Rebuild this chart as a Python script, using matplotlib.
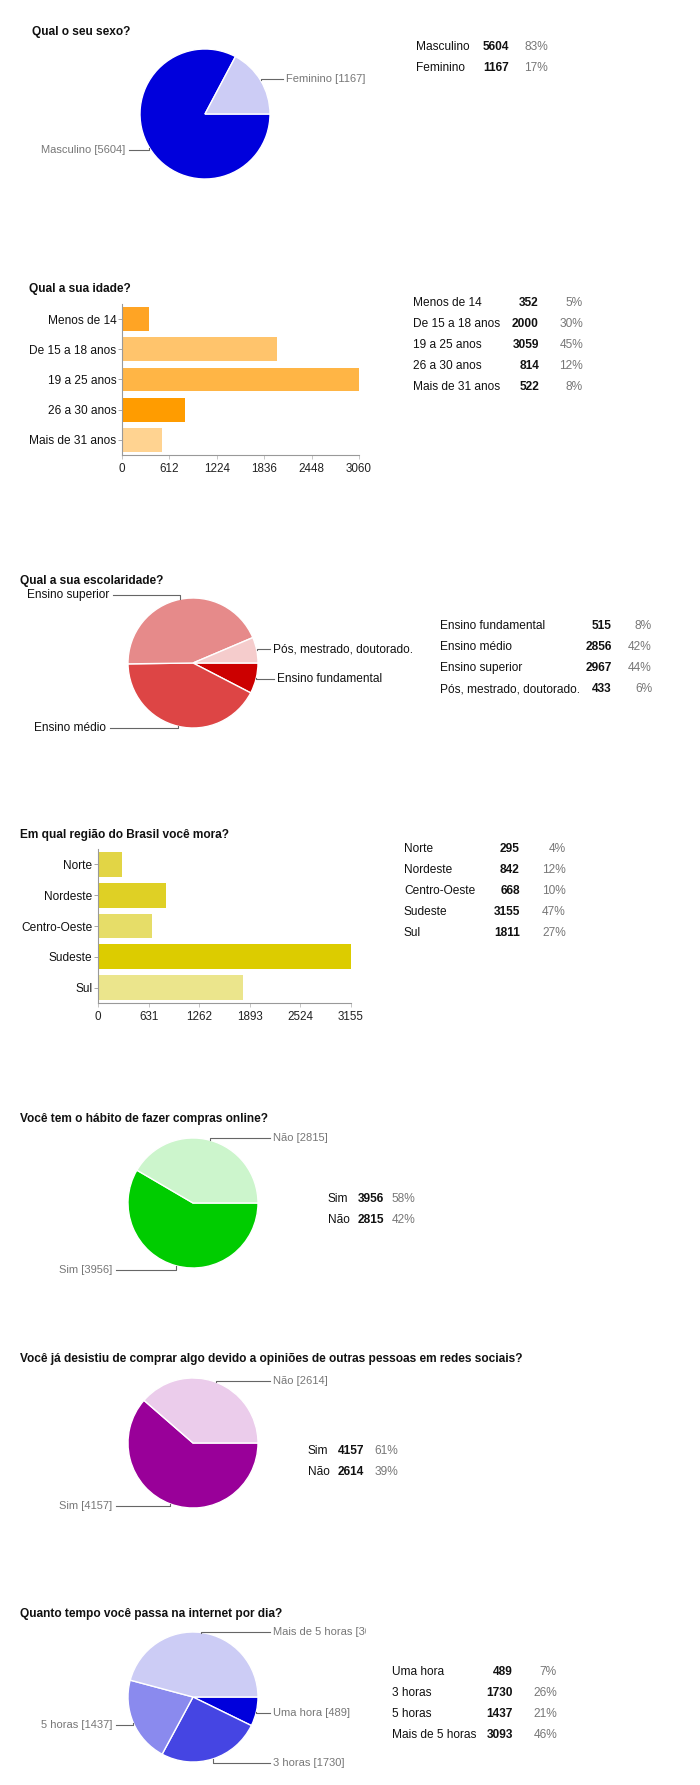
import numpy as np
import matplotlib
matplotlib.use("Agg")
import matplotlib.pyplot as plt
from matplotlib.lines import Line2D
from matplotlib.transforms import Bbox, TransformedBbox

plt.rcParams['font.family'] = ['Liberation Sans', 'DejaVu Sans']

W, H = 700, 1785

# dados
sexo_labels = ['Masculino', 'Feminino']
sexo_vals = [5604, 1167]
sexo_pct = ['83%', '17%']
sexo_cores = ['#0000dc', '#ccccf5']

idade_labels = ['Menos de 14', 'De 15 a 18 anos', '19 a 25 anos', '26 a 30 anos', 'Mais de 31 anos']
idade_vals = [352, 2000, 3059, 814, 522]
idade_pct = ['5%', '30%', '45%', '12%', '8%']
idade_ticks = [0, 612, 1224, 1836, 2448, 3060]
idade_cores = ['#ffa424', '#ffc46c', '#ffb545', '#ff9c00', '#ffd391']

esc_labels = ['Ensino fundamental', 'Ensino médio', 'Ensino superior', 'Pós, mestrado, doutorado.']
esc_vals = [515, 2856, 2967, 433]
esc_pct = ['8%', '42%', '44%', '6%']
esc_cores = ['#cc0000', '#dd4545', '#e68a8a', '#f5cccc']

reg_labels = ['Norte', 'Nordeste', 'Centro-Oeste', 'Sudeste', 'Sul']
reg_vals = [295, 842, 668, 3155, 1811]
reg_pct = ['4%', '12%', '10%', '47%', '27%']
reg_ticks = [0, 631, 1262, 1893, 2524, 3155]
reg_cores = ['#e2d545', '#dfd025', '#e6dd68', '#dccc00', '#ebe58c']

compras_labels = ['Sim', 'Não']
compras_vals = [3956, 2815]
compras_pct = ['58%', '42%']
compras_cores = ['#00cc00', '#ccf5cc']

desist_labels = ['Sim', 'Não']
desist_vals = [4157, 2614]
desist_pct = ['61%', '39%']
desist_cores = ['#990099', '#ebcceb']

tempo_labels = ['Uma hora', '3 horas', '5 horas', 'Mais de 5 horas']
tempo_vals = [489, 1730, 1437, 3093]
tempo_pct = ['7%', '26%', '21%', '46%']
tempo_cores = ['#0000dc', '#4545e3', '#8a8aee', '#ccccf5']

fig = plt.figure(figsize=(W / 100, H / 100), dpi=100)


def fx(x):
    return x / W


def fy(y):
    return 1 - y / H


def titulo(x, y, s):
    fig.text(fx(x), fy(y), s, fontsize=8.6, fontweight='bold', color='#111',
             ha='left', va='center')


def tabela(labels, vals, pct, x0, xv, xp, y0, dy=21):
    for i, (l, v, p) in enumerate(zip(labels, vals, pct)):
        y = y0 + i * dy
        fig.text(fx(x0), fy(y), l, fontsize=8.6, color='#111', ha='left', va='center')
        fig.text(fx(xv), fy(y), str(v), fontsize=8.6, fontweight='bold', color='#111',
                 ha='right', va='center')
        fig.text(fx(xp), fy(y), p, fontsize=8.6, color='#777', ha='right', va='center')


def pizza(vals, cores, cx, cy, r, rotulos, pos, cor_txt='#777', tam=8, clip=None):
    ax = fig.add_axes([fx(cx - r), fy(cy + r), 2 * r / W, 2 * r / H])
    wedges, _ = ax.pie(vals, colors=cores, startangle=0, counterclock=False,
                       wedgeprops=dict(edgecolor='white', linewidth=1))
    ax.set_xlim(-1, 1)
    ax.set_ylim(-1, 1)
    ax.set_aspect('auto')
    ax.axis('off')
    # linhas-guia saem do meio de cada fatia
    for w, txt, (lado, lx, ly) in zip(wedges, rotulos, pos):
        th = np.deg2rad((w.theta1 + w.theta2) / 2)
        axx = cx + r * np.cos(th)
        ayy = cy - r * np.sin(th)
        if lado == 'R':
            xs = [axx, axx, lx - 3]
            ha = 'left'
        else:
            xs = [axx, axx, lx + 4]
            ha = 'right'
        ys = [ayy, ly, ly]
        fig.add_artist(Line2D([fx(v) for v in xs], [fy(v) for v in ys],
                              transform=fig.transFigure, color='#666', lw=0.8))
        t = fig.text(fx(lx), fy(ly), txt, fontsize=tam, color=cor_txt, ha=ha, va='center')
        if clip is not None:
            t.set_clip_box(TransformedBbox(Bbox([[0, 0], [clip / W, 1]]), fig.transFigure))
            t.set_clip_on(True)


def barras(labels, vals, cores, ticks, left, right, top, bottom, h):
    ax = fig.add_axes([fx(left), fy(bottom), (right - left) / W, (bottom - top) / H])
    y = np.arange(len(vals))
    ax.barh(y, vals, height=h, color=cores)
    ax.set_xlim(ticks[0], ticks[-1])
    ax.set_ylim(len(vals) - 0.5, -0.5)
    ax.set_xticks(ticks)
    ax.set_yticks(y)
    ax.set_yticklabels(labels)
    for s in ['top', 'right']:
        ax.spines[s].set_visible(False)
    for s in ['left', 'bottom']:
        ax.spines[s].set_color('#999')
        ax.spines[s].set_linewidth(0.8)
    ax.tick_params(axis='y', length=3, width=0.6, color='#999', labelsize=8.6,
                   labelcolor='#111', pad=1)
    ax.tick_params(axis='x', length=3, width=0.6, color='#bbb', labelsize=8.4,
                   labelcolor='#222', pad=3)
    ax.set_facecolor('none')


# 1 - sexo
titulo(32, 32, 'Qual o seu sexo?')
pizza(sexo_vals, sexo_cores, 205, 114, 65,
      [f'{l} [{v}]' for l, v in zip(sexo_labels, sexo_vals)],
      [('L', 125, 150), ('R', 286, 79)])
tabela(sexo_labels, sexo_vals, sexo_pct, 416, 509, 548, 47)

# 2 - idade
titulo(29, 289, 'Qual a sua idade?')
barras(idade_labels, idade_vals, idade_cores, idade_ticks, 122, 359, 304, 455, 0.79)
tabela(idade_labels, idade_vals, idade_pct, 413, 539, 583, 303)

# 3 - escolaridade
titulo(20, 581, 'Qual a sua escolaridade?')
pizza(esc_vals, esc_cores, 193, 663, 65, esc_labels,
      [('R', 277, 679), ('L', 106, 728), ('L', 109, 595), ('R', 273, 649)],
      cor_txt='#111', tam=8.6)
tabela(esc_labels, esc_vals, esc_pct, 440, 612, 652, 626)

# 4 - regiao
titulo(20, 835, 'Em qual região do Brasil você mora?')
barras(reg_labels, reg_vals, reg_cores, reg_ticks, 98, 351, 849, 1003, 0.81)
tabela(reg_labels, reg_vals, reg_pct, 404, 520, 566, 849)

# 5 - compras online
titulo(20, 1119, 'Você tem o hábito de fazer compras online?')
pizza(compras_vals, compras_cores, 193, 1203, 65,
      [f'{l} [{v}]' for l, v in zip(compras_labels, compras_vals)],
      [('L', 112, 1270), ('R', 273, 1138)])
tabela(compras_labels, compras_vals, compras_pct, 328, 384, 415, 1199)

# 6 - desistiu
titulo(20, 1359, 'Você já desistiu de comprar algo devido a opiniões de outras pessoas em redes sociais?')
pizza(desist_vals, desist_cores, 193, 1443, 65,
      [f'{l} [{v}]' for l, v in zip(desist_labels, desist_vals)],
      [('L', 112, 1506), ('R', 273, 1381)])
tabela(desist_labels, desist_vals, desist_pct, 308, 364, 398, 1451)

# 7 - tempo na internet
titulo(20, 1614, 'Quanto tempo você passa na internet por dia?')
pizza(tempo_vals, tempo_cores, 193, 1697, 65,
      [f'{l} [{v}]' for l, v in zip(tempo_labels, tempo_vals)],
      [('R', 273, 1713), ('R', 273, 1763), ('L', 112, 1725), ('R', 273, 1632)],
      clip=366)
tabela(tempo_labels, tempo_vals, tempo_pct, 392, 513, 557, 1672)

fig.savefig('out.png', dpi=100, facecolor='white')
